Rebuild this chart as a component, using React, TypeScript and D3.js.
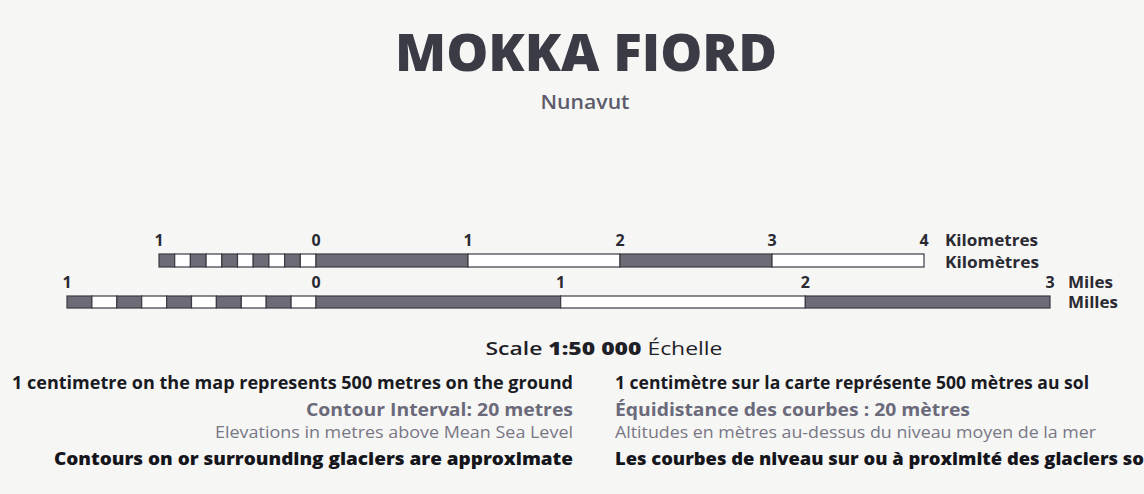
import { useEffect, useRef } from 'react';
import * as d3 from 'd3';

// Scale bar units: main divisions and the subdivided extension left of zero
const kmTicks = [1, 0, 1, 2, 3, 4];
const kmTickValues = [-1, 0, 1, 2, 3, 4];
const kmMain = [0, 1, 2, 3];
const kmSub = [-1, -0.9, -0.8, -0.7, -0.6, -0.5, -0.4, -0.3, -0.2, -0.1];

const miTicks = [1, 0, 1, 2, 3];
const miTickValues = [-1, 0, 1, 2, 3];
const miMain = [0, 1, 2];
const miSub = [-1, -0.9, -0.8, -0.7, -0.6, -0.5, -0.4, -0.3, -0.2, -0.1];

const kmLabels = ['Kilometres', 'Kilomètres'];
const miLabels = ['Miles', 'Milles'];

const leftNotes = [
  '1 centimetre on the map represents 500 metres on the ground',
  'Contour Interval: 20 metres',
  'Elevations in metres above Mean Sea Level',
  'Contours on or surrounding glaciers are approximate',
];
const rightNotes = [
  '1 centimètre sur la carte représente 500 mètres au sol',
  'Équidistance des courbes : 20 mètres',
  'Altitudes en mètres au-dessus du niveau moyen de la mer',
  'Les courbes de niveau sur ou à proximité des glaciers sont approximatives',
];

const W = 1144;
const H = 494;
const DARK = '#6d6c76';
const EDGE = '#3a3a44';
const FONT = '"Open Sans", Lato, sans-serif';

const App = () => {
  const ref = useRef<SVGSVGElement>(null);

  useEffect(() => {
    document.body.style.margin = '0';
    if (!ref.current) return;
    const svg = d3.select(ref.current);
    svg.selectAll('*').remove();

    svg.append('rect').attr('width', W).attr('height', H).attr('fill', '#f6f6f5');

    // Title
    svg
      .append('text')
      .attr('x', 586)
      .attr('y', 71)
      .attr('text-anchor', 'middle')
      .attr('font-family', FONT)
      .attr('font-weight', 800)
      .attr('font-size', 52)
      .attr('textLength', 382)
      .attr('lengthAdjust', 'spacingAndGlyphs')
      .attr('fill', '#3b3b45')
      .text('MOKKA FIORD');

    svg
      .append('text')
      .attr('x', 585)
      .attr('y', 109)
      .attr('text-anchor', 'middle')
      .attr('font-family', FONT)
      .attr('font-weight', 600)
      .attr('font-size', 20)
      .attr('textLength', 89)
      .attr('lengthAdjust', 'spacingAndGlyphs')
      .attr('fill', '#5d5c6b')
      .text('Nunavut');

    // Scale bars
    const drawBar = (
      scale: d3.ScaleLinear<number, number>,
      main: number[],
      sub: number[],
      ticks: number[],
      tickValues: number[],
      labels: string[],
      labelWidths: number[],
      y0: number,
      h: number,
      labelGap: number,
      tickY: number,
      labelStep: number,
    ) => {
      const g = svg.append('g');
      const last = tickValues[tickValues.length - 1];
      g.selectAll('rect.sub')
        .data(sub)
        .join('rect')
        .attr('x', (d) => scale(d))
        .attr('y', y0)
        .attr('width', (d) => scale(d + 0.1) - scale(d))
        .attr('height', h)
        .attr('fill', (_, i) => (i % 2 === 0 ? DARK : '#fff'))
        .attr('stroke', EDGE)
        .attr('stroke-width', 1.2);
      g.selectAll('rect.main')
        .data(main)
        .join('rect')
        .attr('x', (d) => scale(d))
        .attr('y', y0)
        .attr('width', (d) => scale(Math.min(d + 1, last)) - scale(d))
        .attr('height', h)
        .attr('fill', (_, i) => (i % 2 === 0 ? DARK : '#fff'))
        .attr('stroke', EDGE)
        .attr('stroke-width', 1.2);
      g.selectAll('text.tick')
        .data(tickValues)
        .join('text')
        .attr('x', (d) => scale(d))
        .attr('y', tickY)
        .attr('text-anchor', 'middle')
        .attr('font-family', FONT)
        .attr('font-weight', 700)
        .attr('font-size', 16)
        .attr('fill', '#2a2a33')
        .text((_, i) => ticks[i]);
      g.selectAll('text.unit')
        .data(labels)
        .join('text')
        .attr('x', scale(last) + labelGap)
        .attr('y', (_, i) => tickY + i * labelStep)
        .attr('font-family', FONT)
        .attr('font-weight', 700)
        .attr('font-size', 16)
        .attr('textLength', (_, i) => labelWidths[i])
        .attr('lengthAdjust', 'spacingAndGlyphs')
        .attr('fill', '#2a2a33')
        .text((d) => d);
    };

    const kmScale = d3.scaleLinear().domain([-1, 0, 4]).range([159, 316, 924]);
    const miScale = d3.scaleLinear().domain([-1, 0, 3]).range([67, 316, 1050]);

    drawBar(kmScale, kmMain, kmSub, kmTicks, kmTickValues, kmLabels, [93, 94], 254, 13, 21, 246, 22);
    drawBar(miScale, miMain, miSub, miTicks, miTickValues, miLabels, [45, 50], 296, 12, 18, 288, 20);

    // Scale statement
    const s = svg
      .append('text')
      .attr('x', 604)
      .attr('y', 355)
      .attr('text-anchor', 'middle')
      .attr('font-family', FONT)
      .attr('font-size', 18)
      .attr('textLength', 237)
      .attr('lengthAdjust', 'spacingAndGlyphs')
      .attr('fill', '#1f1f27');
    s.append('tspan').attr('font-weight', 600).text('Scale ');
    s.append('tspan').attr('font-weight', 800).text('1:50 000');
    s.append('tspan').attr('font-weight', 400).text(' Échelle');

    // Notes
    const noteY = [389, 416, 438, 465];
    const noteStyle = [
      { w: 700, size: 17, fill: '#1a1a22' },
      { w: 700, size: 17, fill: '#6b6a7a' },
      { w: 400, size: 15.5, fill: '#787786' },
      { w: 800, size: 17, fill: '#15151c' },
    ];
    const leftWidths = [561, 267, 358, 519];
    const rightWidths = [474, 355, 481, 0];
    svg
      .append('g')
      .selectAll('text')
      .data(leftNotes)
      .join('text')
      .attr('x', 573)
      .attr('y', (_, i) => noteY[i])
      .attr('text-anchor', 'end')
      .attr('font-family', FONT)
      .attr('font-weight', (_, i) => noteStyle[i].w)
      .attr('font-size', (_, i) => noteStyle[i].size)
      .attr('textLength', (_, i) => leftWidths[i])
      .attr('lengthAdjust', 'spacingAndGlyphs')
      .attr('fill', (_, i) => noteStyle[i].fill)
      .text((d) => d);
    const right = svg
      .append('g')
      .selectAll('text')
      .data(rightNotes)
      .join('text')
      .attr('x', 615)
      .attr('y', (_, i) => noteY[i])
      .attr('font-family', FONT)
      .attr('font-weight', (_, i) => noteStyle[i].w)
      .attr('font-size', (_, i) => noteStyle[i].size)
      .attr('textLength', (_, i) => (rightWidths[i] ? rightWidths[i] : null))
      .attr('lengthAdjust', 'spacingAndGlyphs')
      .attr('fill', (_, i) => noteStyle[i].fill)
      .text((d) => d);

    // last French line runs off the page edge: squeeze it like its English twin
    const lastNode = right.nodes()[3] as SVGTextElement;
    const prefix = 'Les courbes de niveau sur ou à proximité des glaciers so';
    const probe = svg
      .append('text')
      .attr('font-family', FONT)
      .attr('font-weight', 800)
      .attr('font-size', 17)
      .text(prefix);
    const prefixW = (probe.node() as SVGTextElement).getComputedTextLength();
    probe.remove();
    const fullW = lastNode.getComputedTextLength();
    if (prefixW > 0) {
      d3.select(lastNode).attr('textLength', (fullW * (W - 615)) / prefixW);
    }
  }, []);

  return <svg ref={ref} width={W} height={H} style={{ display: 'block' }} />;
};

export default App;
